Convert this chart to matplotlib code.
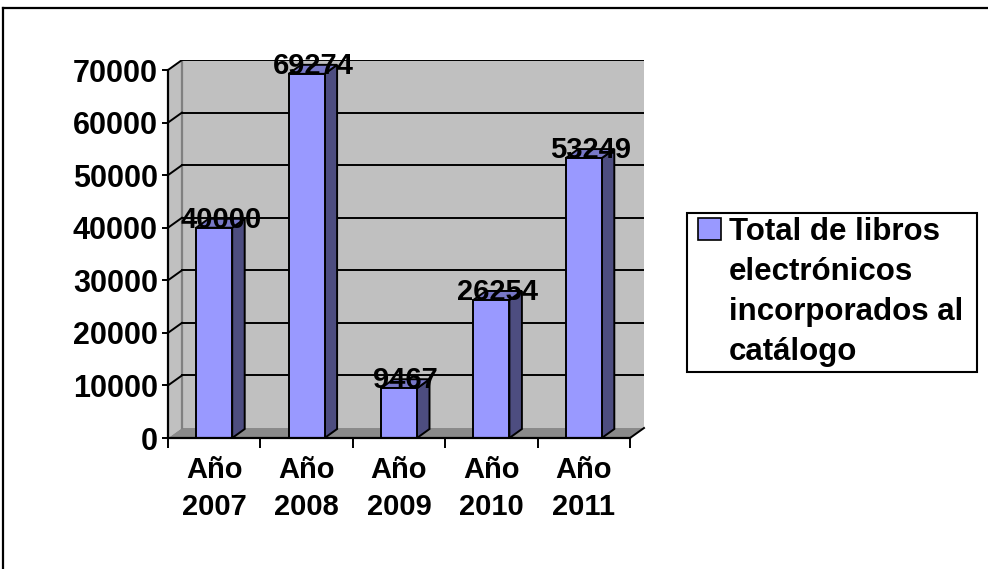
import matplotlib
matplotlib.use("Agg")
import matplotlib.pyplot as plt
from matplotlib.patches import Polygon, Rectangle
from matplotlib.lines import Line2D

# datos
anos = ["2007", "2008", "2009", "2010", "2011"]
libros = [40000, 69274, 9467, 26254, 53249]
etiquetas = ["Año\n" + a for a in anos]
yticks = [0, 10000, 20000, 30000, 40000, 50000, 60000, 70000]
serie = ["Total de libros", "electrónicos", "incorporados al", "catálogo"]

plt.rcParams['font.family'] = ['Liberation Sans', 'DejaVu Sans']
plt.rcParams['font.weight'] = 'bold'

W, H = 988, 569
fig = plt.figure(figsize=(W / 100, H / 100), dpi=100)

# pixel scale of the plot
px_cat = 92.4                 # px per category
px_val = 10000 / 52.57        # value units per px
n = len(anos)
ymax = yticks[-1]

ax = fig.add_axes([168 / W, (H - 438) / H, (644 - 168) / W, (438 - 59.5) / H])
ax.set_xlim(0, 476 / px_cat)
ax.set_ylim(0, 72000)
ax.patch.set_visible(False)

# depth of the walls and of the bars
dxw, dyw = 14 / px_cat, 10 * px_val
dxb, dyb = 12.5 / px_cat, 9 * px_val
hw = 18 / px_cat

wall = '#C0C0C0'
# back wall, left wall, floor
ax.add_patch(Rectangle((dxw, dyw), n, ymax, fc=wall, ec='none', zorder=0.5))
ax.add_patch(Polygon([(0, 0), (dxw, dyw), (dxw, ymax + dyw), (0, ymax)],
                     fc=wall, ec='none', zorder=0.5))
ax.add_patch(Polygon([(0, 0), (n, 0), (n + dxw, dyw), (dxw, dyw)],
                     fc='#8A8A8A', ec='none', zorder=0.5))
ax.plot([dxw, dxw], [dyw, ymax + dyw], color='#808080', lw=1.6, zorder=0.6)
ax.plot([dxw, n + dxw], [ymax + dyw, ymax + dyw], color='#9A9A9A', lw=1.2, zorder=0.6)
ax.plot([n, n + dxw], [0, dyw], color='black', lw=1.4, zorder=0.7, clip_on=False)

# gridlines
for v in yticks[1:]:
    ax.plot([dxw, n + dxw], [v + dyw, v + dyw], color='black', lw=1.4, zorder=0.7)
    ax.plot([0, dxw], [v, v + dyw], color='black', lw=1.4, zorder=0.7)

# bars
for i, v in enumerate(libros):
    x0, x1 = i + 0.5 - hw, i + 0.5 + hw
    ax.add_patch(Polygon([(x1, 0), (x1 + dxb, dyb), (x1 + dxb, v + dyb), (x1, v)],
                         fc='#4D4D80', ec='black', lw=1.4, zorder=2))
    ax.add_patch(Polygon([(x0, v), (x1, v), (x1 + dxb, v + dyb), (x0 + dxb, v + dyb)],
                         fc='#7878C8', ec='black', lw=1.4, zorder=2))
    ax.add_patch(Rectangle((x0, 0), 2 * hw, v, fc='#9999FF', ec='black', lw=1.4, zorder=3))
    ax.text(i + 0.5 + 6.5 / px_cat, v, str(v), ha='center', va='baseline',
            fontsize=21, fontweight='bold', zorder=5)

for s in ['top', 'right']:
    ax.spines[s].set_visible(False)
ax.spines['left'].set_bounds(0, ymax)
ax.spines['bottom'].set_bounds(0, n)
for s in ['left', 'bottom']:
    ax.spines[s].set_linewidth(1.6)
    ax.spines[s].set_zorder(4)

ax.set_yticks(yticks)
ax.set_yticklabels([str(v) for v in yticks])
ax.tick_params(axis='y', direction='out', length=4.3, width=1.4, pad=3, labelsize=22)
ax.set_xticks(range(n + 1))
ax.set_xticklabels([])
ax.tick_params(axis='x', which='major', direction='out', length=7, width=1.4)
ax.set_xticks([i + 0.5 for i in range(n)], minor=True)
ax.set_xticklabels(etiquetas, minor=True)
ax.tick_params(axis='x', which='minor', length=0, pad=13, labelsize=21)
for t in ax.get_xticklabels(minor=True):
    t.set_linespacing(1.4)

# legend
fig.add_artist(Rectangle((687 / W, 1 - 372 / H), 290 / W, 159 / H, transform=fig.transFigure,
                         fc='white', ec='black', lw=1.5))
fig.add_artist(Rectangle((698 / W, 1 - 240 / H), 23 / W, 22 / H, transform=fig.transFigure,
                         fc='#9999FF', ec='black', lw=1.2))
for k, linea in enumerate(serie):
    fig.text(729 / W, 1 - (240 + 40 * k) / H, linea, ha='left', va='baseline',
             fontsize=22.5, fontweight='bold')

# outer frame
fig.add_artist(Line2D([3 / W, 1], [1 - 8 / H, 1 - 8 / H], color='black', lw=1.6))
fig.add_artist(Line2D([3 / W, 3 / W], [0, 1 - 8 / H], color='black', lw=1.6))

fig.savefig('out.png', dpi=100)
